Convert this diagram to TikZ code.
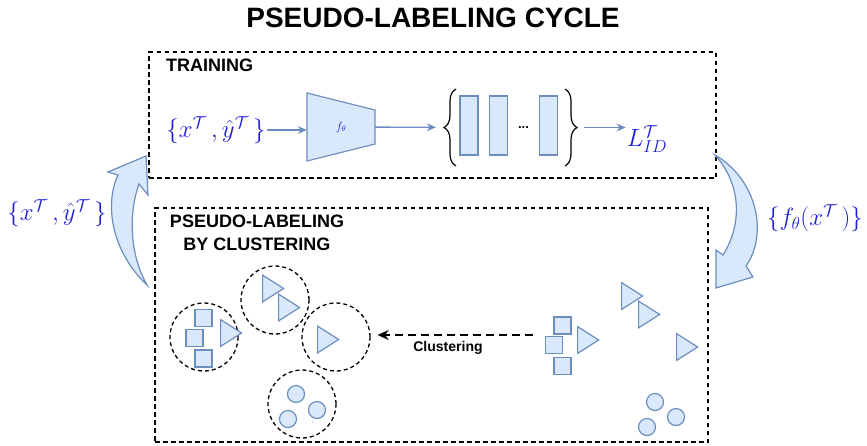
\documentclass[tikz,border=0pt]{standalone}
\usepackage[no-math]{fontspec}
\setmainfont{Liberation Sans}
\usetikzlibrary{arrows.meta,shapes.geometric,decorations.pathreplacing}
\definecolor{pale}{HTML}{DAE8FC}
\definecolor{rim}{HTML}{6C8EBF}
\definecolor{ink}{RGB}{30,30,215}

\begin{document}
\begin{tikzpicture}[x=1pt,y=-1pt,
  frame/.style={draw,line width=1.4pt,dash pattern=on 4.5pt off 3.5pt,inner sep=0},
  blob/.style={draw=rim,fill=pale,line width=1.2pt,inner sep=0},
  sq/.style={blob,minimum size=17pt},
  tri/.style={blob,isosceles triangle,isosceles triangle apex angle=65,minimum height=21pt,anchor=west},
  dot/.style={blob,circle,minimum size=17pt},
  clus/.style={circle,draw,line width=1.3pt,dash pattern=on 4pt off 3pt,minimum size=68pt,inner sep=0},
  flow/.style={-{Stealth[length=9pt,width=8pt]},draw=rim,line width=1.3pt},
  clarrow/.style={-{Stealth[length=11pt,width=10pt]},draw,line width=2pt,dash pattern=on 8pt off 5pt},
  maths/.style={text=ink,inner sep=1pt,font=\fontsize{24}{28}\selectfont},
  head/.style={inner sep=0,font=\fontsize{18}{23}\selectfont\bfseries},
  brc/.style={decorate,decoration={brace,amplitude=12pt},line width=1.2pt}]
   \useasboundingbox (0,0) rectangle (867,445);
   \node (title) at (433,18) {\fontsize{28}{32}\selectfont\bfseries PSEUDO-LABELING CYCLE};
   \node[frame,minimum width=567pt,minimum height=126pt] (train) at (432.5,115) {};
   \node[frame,minimum width=553pt,minimum height=234pt] (plbox) at (431.5,325) {};
   \node[head,anchor=west] (trainlbl) at (166,65) {TRAINING};
   \node[head,align=center] (pllbl) at (257,233) {PSEUDO-LABELING\\BY CLUSTERING};

   \node[maths] (inp) at (216,130) {$\{x^{\mathcal T}\,,\hat y^{\mathcal T}\,\}$};
   \draw[blob] (307,93) -- (375,110) -- (375,144) -- (307,161) -- cycle;
   \node[inner sep=0,minimum width=68pt,minimum height=34pt,text=ink,font=\fontsize{12}{14}\selectfont] (enc) at (341,127) {$f_\theta$};
   \node[blob,minimum width=18pt,minimum height=59pt] (h1) at (469,125.5) {};
   \node[blob,minimum width=18pt,minimum height=59pt] (h2) at (498.5,125.5) {};
   \node[blob,minimum width=18pt,minimum height=59pt] (h3) at (548.5,125.5) {};
   \node[font=\fontsize{13}{14}\selectfont\bfseries] (hdots) at (523.5,128) {...};
   \draw[brc] (456,166) -- (456,89);
   \draw[brc] (565,89) -- (565,166);
   \node[inner sep=0,minimum width=134pt,minimum height=77pt] (heads) at (510,127.5) {};
   \node[maths] (loss) at (647,139) {$L_{ID}^{\mathcal T}$};
   \path (inp.east) edge[flow] (inp.east -| enc.west);
   \path (enc) edge[flow,shorten >=7pt] (heads);
   \path (heads.east) edge[flow,shorten <=7pt] (heads.east -| loss.west);

   \draw[blob] (147,285) .. controls (112,252) and (104,205) .. (118,175) -- (108,172) -- (146,156) -- (148,195) -- (139,184) .. controls (128,215) and (130,255) .. (147,285) -- cycle;
   \node[maths] (backlbl) at (57,213) {$\{x^{\mathcal T}\,,\hat y^{\mathcal T}\,\}$};
   \draw[blob] (715,155) .. controls (758,180) and (768,235) .. (746,266) -- (753,277) -- (716,288) -- (716,250) -- (723,255) .. controls (742,225) and (742,185) .. (715,155) -- cycle;
   \node[maths] (featlbl) at (815,218) {$\{f_\theta(x^{\mathcal T}\,)\}$};

   \node[clus] (cA) at (204,337) {};
   \node[clus] (cB) at (275,300) {};
   \node[clus] (cC) at (336,337) {};
   \node[clus] (cD) at (302,404) {};
   \node[sq] (sa1) at (203.5,318) {};
   \node[sq] (sa2) at (194.5,338) {};
   \node[sq] (sa3) at (203.5,358.5) {};
   \node[tri] (ta1) at (220,333) {};
   \node[tri] (tb1) at (262,288.5) {};
   \node[tri] (tb2) at (278,307.5) {};
   \node[tri] (tc1) at (317,339.5) {};
   \node[dot] (dd1) at (296,394) {};
   \node[dot] (dd2) at (317,410) {};
   \node[dot] (dd3) at (288,419) {};

   \node[sq] (s1) at (562.5,325.5) {};
   \node[sq] (s2) at (554,345) {};
   \node[sq] (s3) at (562.5,366) {};
   \node[tri] (t1) at (577,340) {};
   \node[tri] (t2) at (621,296) {};
   \node[tri] (t3) at (638,314.5) {};
   \node[tri] (t4) at (676,347) {};
   \node[dot] (d1) at (655,402) {};
   \node[dot] (d2) at (676,417) {};
   \node[dot] (d3) at (647,427) {};

   \coordinate (clsrc) at (533,335);
   \path (clsrc) edge[clarrow,shorten >=7pt] (clsrc -| cC.east);
   \node[font=\fontsize{14}{16}\selectfont\bfseries] (cltext) at (448,348) {Clustering};
\end{tikzpicture}
\end{document}
